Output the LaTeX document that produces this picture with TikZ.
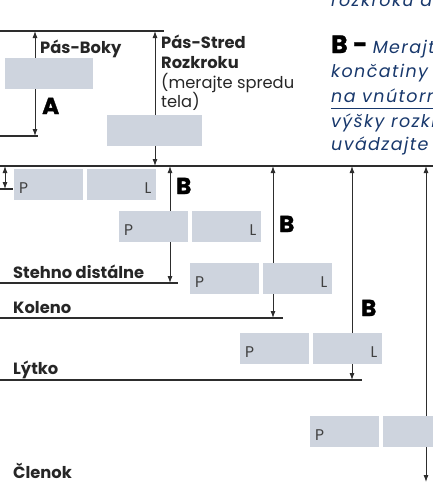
\documentclass[tikz,border=0pt]{standalone}
\usepackage{fontspec}
\setmainfont{Poppins}
\newfontfamily\heavyfont{Poppins}[BoldFeatures={FakeBold=1.5}]
\newfontfamily\notefont{Poppins}[LetterSpace=8]
\usetikzlibrary{arrows.meta}

\definecolor{boxgray}{RGB}{206,212,222}
\definecolor{linegray}{RGB}{45,45,45}
\definecolor{noteblue}{RGB}{24,56,108}

\begin{document}
\begin{tikzpicture}[%
x=1pt, y=-1pt,
dimline/.style={draw=linegray, line width=1.2pt},
dimarrow/.style={draw=linegray, line width=0.9pt, {Latex[length=7pt,width=5pt]}-{Latex[length=7pt,width=5pt]}},
fieldbox/.style={fill=boxgray, minimum height=31pt, inner sep=0pt, anchor=north west},
sidetag/.style={font=\fontsize{15.5}{15.5}\selectfont, text=black!75, inner sep=0pt},
rowlabel/.style={font=\bfseries\fontsize{16.3}{18}\selectfont, text=black!85, anchor=base west, inner sep=0pt},
plainlabel/.style={font=\fontsize{16.3}{18}\selectfont, text=black!85, anchor=base west, inner sep=0pt},
bigletter/.style={font=\heavyfont\bfseries\fontsize{23}{23}\selectfont, anchor=base west, inner sep=0pt},
noteline/.style={font=\notefont\itshape\fontsize{17.5}{20}\selectfont, text=noteblue, anchor=base west, inner sep=0pt},
]
\useasboundingbox (0,0) rectangle (433,483);
\clip (0,0) rectangle (433,483);
%% arrow ends;
\coordinate (aTop) at (35,31);
\coordinate (aBot) at (35,136);
\coordinate (sTop) at (155,31);
\coordinate (sBot) at (155,166);
\coordinate (gTop) at (5,166);
\coordinate (gBot) at (5,189);
\coordinate (b1Top) at (170,166);
\coordinate (b1Bot) at (170,283);
\coordinate (b2Top) at (273,166);
\coordinate (b2Bot) at (273,318);
\coordinate (b3Top) at (352,166);
\coordinate (b3Bot) at (352,380);
\coordinate (b4Top) at (426,166);
\coordinate (b4Bot) at (426,482);
%% level lines;
\draw [dimline] (0,31) -- (164,31);
\draw [dimline] (0,136) -- (38,136);
\draw [dimline] (0,166) -- (433,166);
\draw [dimline] (0,189) -- (13,189);
\draw [dimline] (0,283) -- (178,283);
\draw [dimline] (0,318) -- (283,318);
\draw [dimline] (0,380) -- (362,380);
%% arrows;
\draw [dimarrow] (aTop) -- (aBot);
\draw [dimarrow] (sTop) -- (sBot);
\draw [dimarrow] (gTop) -- (gBot);
\draw [dimarrow] (b1Top) -- (b1Bot);
\draw [dimarrow] (b2Top) -- (b2Bot);
\draw [dimarrow] (b3Top) -- (b3Bot);
\draw [dimarrow] (b4Top) -- (b4Bot);
%% boxes;
\node [fieldbox, minimum width=88pt] (boky) at (5,58) {};
\node [fieldbox, minimum width=95pt] (stred) at (107,115) {};
\foreach \x/\y/\n in {14/169/1, 119/211/2, 190/263/3, 240/333/4, 310/416/5} {
  \node [fieldbox, minimum width=69pt] (p\n) at (\x,\y) {};
  \node [fieldbox, minimum width=69pt] (l\n) at (\x+73,\y) {};
  \node [sidetag, anchor=base west] at ([xshift=5pt,yshift=-24pt]p\n.north west) {P};
  \node [sidetag, anchor=base east] at ([xshift=-5pt,yshift=-24pt]l\n.north east) {L};
}
%% labels;
\node [rowlabel] (bokyText) at (40,53) {Pás-Boky};
\node [rowlabel] (stredText) at (161,48) {Pás-Stred};
\node [rowlabel] (rozkText) at (161,68) {Rozkroku};
\node [plainlabel] (sprText) at (161,88) {(merajte spredu};
\node [plainlabel] (telaText) at (161,107) {tela)};
\node [bigletter] (aMark) at (42,114) {A};
\node [bigletter] (b1Mark) at (176,194) {B};
\node [bigletter] (b2Mark) at (279,232) {B};
\node [bigletter] (b3Mark) at (361,316) {B};
\node [rowlabel] (stehno) at (13,278) {Stehno distálne};
\node [rowlabel] (koleno) at (13,313) {Koleno};
\node [rowlabel] (lytko) at (13,374) {Lýtko};
\node [rowlabel] (clenok) at (13,478) {Členok};
%% note;
\node [noteline] (n0) at (331,6) {rozkroku do};
\node [anchor=base west, inner sep=0pt] (n1) at (331,53) {{\heavyfont\bfseries\fontsize{25}{25}\selectfont B - }{\notefont\itshape\fontsize{17.5}{20}\selectfont\color{noteblue}Merajte}};
\node [noteline] (n2) at (331,77) {končatiny};
\node [noteline] (n3) at (331,102) {\underline{na vnútornej}};
\node [noteline] (n4) at (331,127) {výšky rozkroku};
\node [noteline] (n5) at (331,150) {uvádzajte};
\end{tikzpicture}
\end{document}
